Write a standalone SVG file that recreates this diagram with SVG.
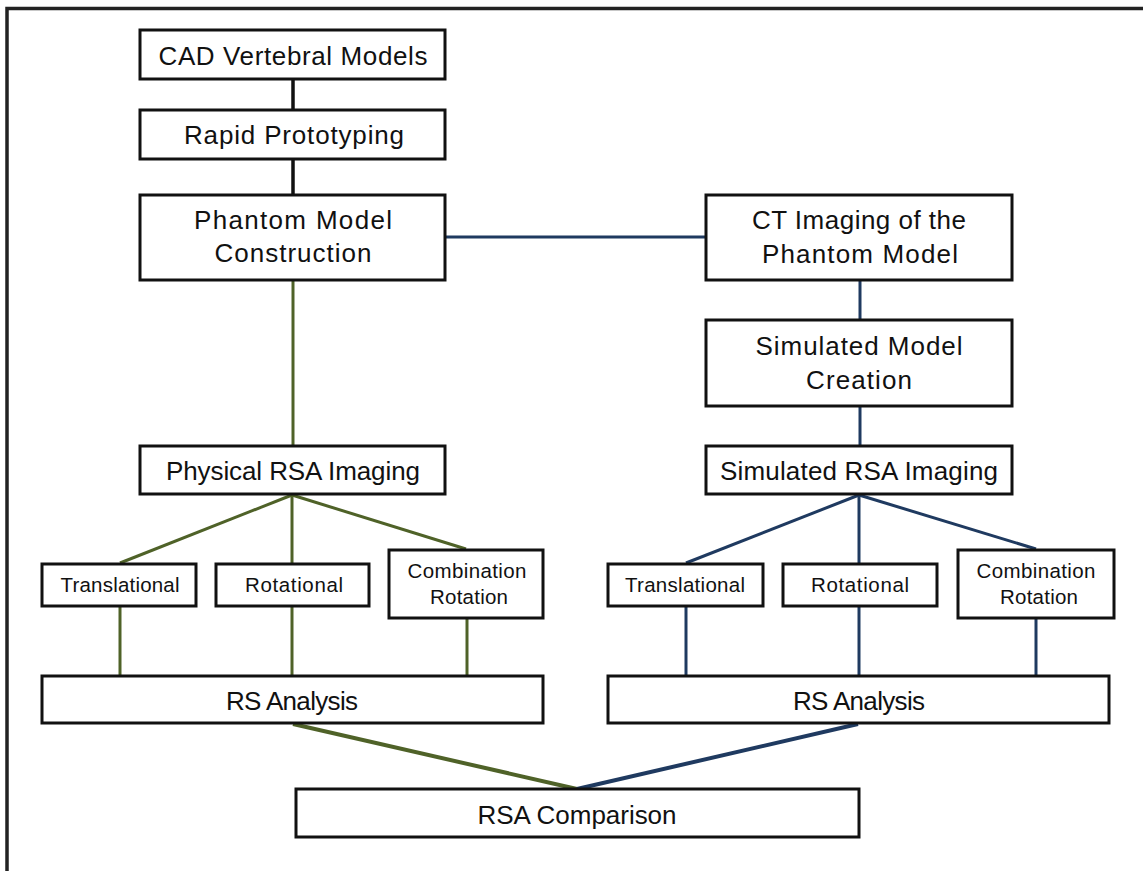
<svg xmlns="http://www.w3.org/2000/svg" width="1143" height="871" viewBox="0 0 1143 871">
  <style>
    .box { fill: #ffffff; stroke: #111111; stroke-width: 3; }
    .lbl { font-family: "Liberation Sans", Arial, sans-serif; font-size: 26px; fill: #111111; text-anchor: middle; }
    .sm { font-size: 20.5px; }
    .blk { stroke: #111111; stroke-width: 3.5; fill: none; }
    .grn { stroke: #4f6228; stroke-width: 3; fill: none; }
    .blu { stroke: #1f3a60; stroke-width: 3; fill: none; }
    .thick { stroke-width: 4; }
  </style>

  <rect x="0" y="0" width="1143" height="871" fill="#ffffff"/>
  <!-- outer frame (open on right and bottom) -->
  <path d="M7 871 V8.5 H1143" fill="none" stroke="#222222" stroke-width="3.5"/>

  <g id="connectors">
    <line class="blk" x1="293" y1="79" x2="293" y2="110"/>
    <line class="blk" x1="293" y1="159" x2="293" y2="194"/>
    <line class="blu" x1="446" y1="237" x2="705" y2="237"/>
    <line class="grn" x1="293" y1="280" x2="293" y2="445"/>
    <line class="blu" x1="860" y1="280" x2="860" y2="319"/>
    <line class="blu" x1="860" y1="406" x2="860" y2="445"/>
    <!-- left branch -->
    <line class="grn" x1="292" y1="495" x2="120" y2="563"/>
    <line class="grn" x1="292" y1="495" x2="292" y2="563"/>
    <line class="grn" x1="292" y1="495" x2="466" y2="549"/>
    <line class="grn" x1="120" y1="606" x2="120" y2="676"/>
    <line class="grn" x1="292" y1="606" x2="292" y2="676"/>
    <line class="grn" x1="467" y1="619" x2="467" y2="676"/>
    <!-- right branch -->
    <line class="blu" x1="859" y1="495" x2="686" y2="563"/>
    <line class="blu" x1="859" y1="495" x2="859" y2="563"/>
    <line class="blu" x1="859" y1="495" x2="1036" y2="549"/>
    <line class="blu" x1="686" y1="606" x2="686" y2="676"/>
    <line class="blu" x1="859" y1="606" x2="859" y2="676"/>
    <line class="blu" x1="1036" y1="619" x2="1036" y2="676"/>
    <!-- merge into comparison -->
    <line class="grn thick" x1="293" y1="724" x2="577" y2="789"/>
    <line class="blu thick" x1="858" y1="724" x2="577" y2="789"/>
  </g>

  <g id="cad">
    <rect class="box" x="140" y="30" width="305" height="49"/>
    <text class="lbl" x="293" y="65" textLength="269">CAD Vertebral Models</text>
  </g>
  <g id="rapid">
    <rect class="box" x="140" y="110" width="305" height="49"/>
    <text class="lbl" x="294" y="144" textLength="220">Rapid Prototyping</text>
  </g>
  <g id="phantom">
    <rect class="box" x="140" y="195" width="305" height="85"/>
    <text class="lbl" x="293" y="229" textLength="198">Phantom Model</text>
    <text class="lbl" x="293" y="262" textLength="157">Construction</text>
  </g>
  <g id="ct">
    <rect class="box" x="706" y="195" width="306" height="85"/>
    <text class="lbl" x="859" y="229" textLength="214">CT Imaging of the</text>
    <text class="lbl" x="860" y="263" textLength="196">Phantom Model</text>
  </g>
  <g id="simmodel">
    <rect class="box" x="706" y="320" width="306" height="86"/>
    <text class="lbl" x="859" y="355" textLength="207">Simulated Model</text>
    <text class="lbl" x="859" y="389" textLength="106">Creation</text>
  </g>
  <g id="physrsa">
    <rect class="box" x="140" y="446" width="305" height="48"/>
    <text class="lbl" x="293" y="480" textLength="254">Physical RSA Imaging</text>
  </g>
  <g id="simrsa">
    <rect class="box" x="706" y="446" width="306" height="48"/>
    <text class="lbl" x="859" y="480" textLength="278">Simulated RSA Imaging</text>
  </g>

  <g id="l-trans">
    <rect class="box" x="42" y="564" width="154" height="42"/>
    <text class="lbl sm" x="120" y="592" textLength="119">Translational</text>
  </g>
  <g id="l-rot">
    <rect class="box" x="216" y="564" width="153" height="42"/>
    <text class="lbl sm" x="294" y="592" textLength="98">Rotational</text>
  </g>
  <g id="l-comb">
    <rect class="box" x="389" y="550" width="154" height="68"/>
    <text class="lbl sm" x="467" y="578" textLength="119">Combination</text>
    <text class="lbl sm" x="469" y="604" textLength="78">Rotation</text>
  </g>
  <g id="r-trans">
    <rect class="box" x="608" y="564" width="155" height="42"/>
    <text class="lbl sm" x="685" y="592" textLength="120">Translational</text>
  </g>
  <g id="r-rot">
    <rect class="box" x="783" y="564" width="154" height="42"/>
    <text class="lbl sm" x="860" y="592" textLength="98">Rotational</text>
  </g>
  <g id="r-comb">
    <rect class="box" x="958" y="550" width="156" height="68"/>
    <text class="lbl sm" x="1036" y="578" textLength="119">Combination</text>
    <text class="lbl sm" x="1039" y="604" textLength="78">Rotation</text>
  </g>

  <g id="l-rs">
    <rect class="box" x="42" y="676" width="501" height="47"/>
    <text class="lbl" x="292" y="710" textLength="132">RS Analysis</text>
  </g>
  <g id="r-rs">
    <rect class="box" x="608" y="676" width="501" height="47"/>
    <text class="lbl" x="859" y="710" textLength="132">RS Analysis</text>
  </g>
  <g id="compare">
    <rect class="box" x="296" y="789" width="563" height="48"/>
    <text class="lbl" x="577" y="824" textLength="199">RSA Comparison</text>
  </g>
</svg>
